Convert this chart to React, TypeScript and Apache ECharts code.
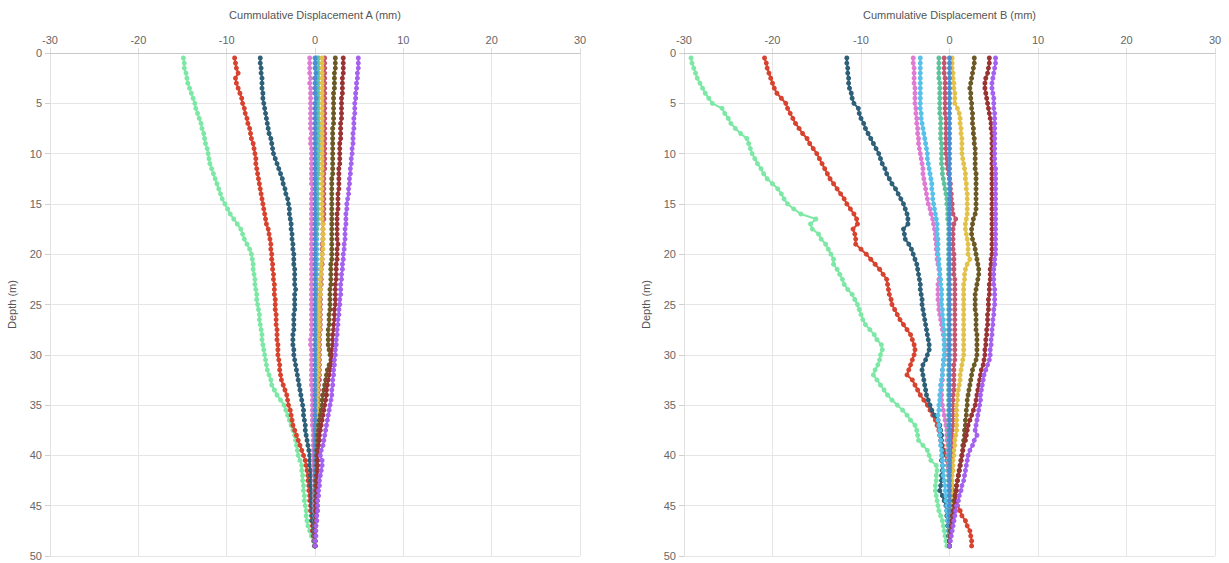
import React, { useEffect, useRef } from "react";
import * as echarts from "echarts";

const depths = [
  0.5, 1, 1.5, 2, 2.5, 3, 3.5, 4, 4.5, 5,
  5.5, 6, 6.5, 7, 7.5, 8, 8.5, 9, 9.5, 10,
  10.5, 11, 11.5, 12, 12.5, 13, 13.5, 14, 14.5, 15,
  15.5, 16, 16.5, 17, 17.5, 18, 18.5, 19, 19.5, 20,
  20.5, 21, 21.5, 22, 22.5, 23, 23.5, 24, 24.5, 25,
  25.5, 26, 26.5, 27, 27.5, 28, 28.5, 29, 29.5, 30,
  30.5, 31, 31.5, 32, 32.5, 33, 33.5, 34, 34.5, 35,
  35.5, 36, 36.5, 37, 37.5, 38, 38.5, 39, 39.5, 40,
  40.5, 41, 41.5, 42, 42.5, 43, 43.5, 44, 44.5, 45,
  45.5, 46, 46.5, 47, 47.5, 48, 48.5, 49,
];

const xTicks = [-30, -20, -10, 0, 10, 20, 30];
const yTicks = [0, 5, 10, 15, 20, 25, 30, 35, 40, 45, 50];

// ---------- Displacement A ----------
const greenA = [
  -14.9, -14.8, -14.8, -14.6, -14.5, -14.4, -14.2, -14.0, -13.8, -13.6,
  -13.5, -13.3, -13.1, -12.9, -12.8, -12.6, -12.5, -12.4, -12.2, -12.1,
  -12.0, -11.9, -11.7, -11.5, -11.3, -11.1, -10.9, -10.7, -10.5, -10.2,
  -9.9, -9.6, -9.2, -8.8, -8.4, -8.2, -8.0, -7.7, -7.4, -7.2,
  -7.1, -7.0, -7.0, -6.9, -6.8, -6.8, -6.7, -6.6, -6.6, -6.5,
  -6.4, -6.3, -6.3, -6.2, -6.1, -6.0, -6.0, -5.9, -5.8, -5.7,
  -5.6, -5.5, -5.4, -5.2, -5.0, -4.9, -4.6, -4.3, -3.9, -3.5,
  -3.3, -3.1, -2.9, -2.7, -2.5, -2.3, -2.2, -2.1, -2.0, -1.9,
  -1.7, -1.5, -1.5, -1.4, -1.4, -1.3, -1.3, -1.2, -1.2, -1.1,
  -1.0, -1.0, -0.9, -0.8, -0.6, -0.4, -0.2, -0.1,
];
const redA = [
  -9.1, -9.0, -8.9, -8.7, -9.0, -8.9, -8.7, -8.5, -8.3, -8.2,
  -8.0, -7.9, -7.7, -7.6, -7.4, -7.3, -7.2, -7.0, -6.9, -6.8,
  -6.7, -6.7, -6.6, -6.5, -6.4, -6.3, -6.2, -6.1, -6.0, -5.9,
  -5.8, -5.7, -5.6, -5.5, -5.3, -5.2, -5.1, -5.0, -5.0, -4.9,
  -4.9, -4.8, -4.8, -4.7, -4.7, -4.6, -4.6, -4.6, -4.5, -4.5,
  -4.5, -4.4, -4.4, -4.4, -4.3, -4.3, -4.3, -4.2, -4.2, -4.2,
  -4.1, -4.0, -4.0, -3.9, -3.8, -3.6, -3.4, -3.2, -3.1, -3.0,
  -2.8, -2.7, -2.6, -2.5, -2.3, -2.1, -1.9, -1.7, -1.5, -1.3,
  -1.1, -1.0, -0.9, -0.8, -0.8, -0.7, -0.7, -0.6, -0.6, -0.5,
  -0.5, -0.4, -0.4, -0.3, -0.3, -0.2, -0.1, 0.0,
];
const tealA = [
  -6.2, -6.2, -6.1, -6.1, -6.0, -6.0, -6.0, -5.9, -5.9, -5.8,
  -5.7, -5.6, -5.5, -5.4, -5.3, -5.2, -5.0, -4.9, -4.8, -4.7,
  -4.5, -4.3, -4.1, -3.9, -3.7, -3.6, -3.4, -3.3, -3.1, -3.0,
  -2.9, -2.9, -2.8, -2.7, -2.7, -2.6, -2.6, -2.5, -2.5, -2.4,
  -2.4, -2.4, -2.3, -2.3, -2.3, -2.3, -2.2, -2.3, -2.3, -2.3,
  -2.3, -2.4, -2.4, -2.4, -2.4, -2.5, -2.5, -2.5, -2.4, -2.4,
  -2.3, -2.2, -2.1, -2.0, -1.9, -1.8, -1.7, -1.6, -1.5, -1.4,
  -1.3, -1.3, -1.2, -1.1, -1.1, -1.0, -0.9, -0.8, -0.7, -0.6,
  -0.6, -0.6, -0.5, -0.5, -0.5, -0.5, -0.4, -0.4, -0.4, -0.4,
  -0.3, -0.3, -0.3, -0.2, -0.2, -0.1, -0.1, 0.0,
];
const pinkA = [
  -0.6, -0.6, -0.6, -0.6, -0.5, -0.6, -0.5, -0.5, -0.5, -0.5,
  -0.5, -0.5, -0.5, -0.5, -0.5, -0.4, -0.5, -0.5, -0.4, -0.4,
  -0.4, -0.4, -0.4, -0.4, -0.4, -0.4, -0.3, -0.4, -0.4, -0.4,
  -0.4, -0.4, -0.4, -0.4, -0.4, -0.4, -0.4, -0.4, -0.4, -0.4,
  -0.4, -0.4, -0.4, -0.4, -0.4, -0.4, -0.4, -0.4, -0.4, -0.4,
  -0.4, -0.4, -0.4, -0.4, -0.4, -0.4, -0.5, -0.5, -0.4, -0.4,
  -0.4, -0.4, -0.4, -0.4, -0.4, -0.4, -0.3, -0.3, -0.3, -0.3,
  -0.3, -0.3, -0.3, -0.3, -0.2, -0.2, -0.2, -0.2, -0.2, -0.2,
  -0.2, -0.2, -0.1, -0.1, -0.1, -0.1, -0.1, -0.1, -0.1, -0.1,
  -0.1, 0.0, 0.0, 0.0, 0.0, 0.0, 0.0, 0.0,
];
const lightBlueA = [
  0.4, 0.4, 0.4, 0.4, 0.4, 0.4, 0.4, 0.4, 0.4, 0.4,
  0.4, 0.4, 0.4, 0.5, 0.5, 0.5, 0.5, 0.5, 0.5, 0.5,
  0.4, 0.4, 0.4, 0.4, 0.3, 0.3, 0.3, 0.3, 0.3, 0.3,
  0.3, 0.3, 0.3, 0.3, 0.2, 0.2, 0.2, 0.2, 0.2, 0.2,
  0.2, 0.2, 0.2, 0.2, 0.2, 0.2, 0.2, 0.2, 0.2, 0.2,
  0.2, 0.2, 0.2, 0.2, 0.2, 0.2, 0.2, 0.2, 0.2, 0.2,
  0.2, 0.2, 0.2, 0.2, 0.2, 0.2, 0.2, 0.2, 0.2, 0.2,
  0.2, 0.2, 0.2, 0.2, 0.1, 0.1, 0.1, 0.1, 0.1, 0.1,
  0.1, 0.1, 0.1, 0.1, 0.1, 0.1, 0.1, 0.1, 0.1, 0.1,
  0.1, 0.1, 0.0, 0.0, 0.0, 0.0, 0.0, 0.0,
];
const tealGreenA = [
  0.2, 0.2, 0.2, 0.2, 0.2, 0.2, 0.2, 0.2, 0.2, 0.2,
  0.2, 0.2, 0.2, 0.2, 0.2, 0.2, 0.2, 0.2, 0.2, 0.2,
  0.2, 0.2, 0.2, 0.2, 0.2, 0.2, 0.2, 0.2, 0.2, 0.2,
  0.2, 0.2, 0.2, 0.2, 0.2, 0.2, 0.1, 0.1, 0.1, 0.1,
  0.1, 0.1, 0.1, 0.1, 0.1, 0.1, 0.1, 0.1, 0.1, 0.1,
  0.1, 0.1, 0.1, 0.1, 0.1, 0.1, 0.1, 0.1, 0.1, 0.1,
  0.1, 0.1, 0.1, 0.1, 0.1, 0.1, 0.1, 0.1, 0.1, 0.1,
  0.1, 0.1, 0.1, 0.1, 0.1, 0.1, 0.1, 0.1, 0.1, 0.1,
  0.1, 0.1, 0.1, 0.0, 0.0, 0.0, 0.0, 0.0, 0.0, 0.0,
  0.0, 0.0, 0.0, 0.0, 0.0, 0.0, 0.0, 0.0,
];
const roseA = [
  1.1, 1.1, 1.1, 1.1, 1.1, 1.1, 1.1, 1.1, 1.1, 1.1,
  1.1, 1.1, 1.1, 1.1, 1.1, 1.1, 1.1, 1.1, 1.1, 1.1,
  1.1, 1.1, 1.1, 1.0, 1.0, 1.0, 1.0, 1.0, 1.0, 1.0,
  1.0, 1.0, 1.0, 0.9, 0.9, 0.9, 0.9, 0.8, 0.8, 0.8,
  0.8, 0.8, 0.7, 0.7, 0.7, 0.7, 0.6, 0.6, 0.6, 0.6,
  0.6, 0.6, 0.6, 0.6, 0.6, 0.5, 0.5, 0.5, 0.5, 0.5,
  0.5, 0.5, 0.5, 0.5, 0.5, 0.4, 0.4, 0.4, 0.4, 0.4,
  0.4, 0.4, 0.3, 0.3, 0.3, 0.3, 0.3, 0.2, 0.2, 0.2,
  0.2, 0.2, 0.2, 0.2, 0.2, 0.1, 0.1, 0.1, 0.1, 0.1,
  0.1, 0.1, 0.1, 0.1, 0.0, 0.0, 0.0, 0.0,
];
const yellowA = [
  0.8, 0.8, 0.8, 0.8, 0.8, 0.8, 0.8, 0.8, 0.8, 0.8,
  0.8, 0.8, 0.8, 0.8, 0.8, 0.8, 0.8, 0.8, 0.8, 0.8,
  0.8, 0.8, 0.8, 0.8, 0.8, 0.8, 0.8, 0.8, 0.8, 0.8,
  0.8, 0.8, 0.8, 0.9, 0.9, 0.9, 0.9, 0.9, 0.9, 0.8,
  0.8, 0.7, 0.7, 0.7, 0.6, 0.6, 0.6, 0.6, 0.5, 0.5,
  0.5, 0.5, 0.5, 0.5, 0.5, 0.4, 0.4, 0.4, 0.4, 0.4,
  0.4, 0.4, 0.4, 0.4, 0.3, 0.3, 0.3, 0.3, 0.3, 0.3,
  0.3, 0.3, 0.3, 0.2, 0.2, 0.2, 0.2, 0.2, 0.2, 0.2,
  0.2, 0.2, 0.2, 0.1, 0.1, 0.1, 0.1, 0.1, 0.1, 0.1,
  0.1, 0.1, 0.1, 0.0, 0.0, 0.0, 0.0, 0.0,
];
const blueA = [
  0.0, 0.0, 0.0, 0.1, 0.0, 0.0, 0.0, 0.0, 0.1, 0.0,
  0.0, 0.0, 0.0, 0.0, 0.0, 0.0, 0.0, 0.0, 0.0, 0.0,
  0.0, 0.0, 0.0, 0.0, 0.0, 0.0, 0.0, 0.0, 0.0, 0.0,
  0.0, 0.0, 0.0, 0.0, 0.0, 0.0, 0.0, 0.0, 0.0, 0.0,
  0.0, 0.0, 0.0, 0.0, 0.0, 0.0, 0.0, 0.0, 0.0, 0.0,
  0.0, 0.0, 0.0, 0.0, 0.0, 0.0, 0.0, 0.0, 0.0, 0.0,
  0.0, 0.0, 0.0, 0.0, 0.0, 0.0, 0.0, 0.0, 0.0, 0.0,
  0.0, 0.0, 0.0, 0.0, 0.0, 0.0, 0.0, 0.0, 0.0, 0.0,
  0.0, 0.0, 0.0, 0.0, 0.0, 0.0, 0.0, 0.0, 0.0, 0.0,
  0.0, 0.0, 0.0, 0.0, 0.0, 0.0, 0.0, 0.0,
];
const oliveA = [
  2.3, 2.3, 2.3, 2.2, 2.2, 2.2, 2.2, 2.1, 2.1, 2.1,
  2.1, 2.1, 2.1, 2.1, 2.0, 2.0, 2.0, 2.0, 2.0, 2.0,
  2.0, 2.0, 2.0, 2.0, 1.9, 1.9, 1.9, 1.9, 1.9, 1.9,
  1.9, 1.9, 1.9, 1.9, 1.9, 1.9, 1.9, 1.9, 1.9, 1.9,
  1.9, 1.8, 1.8, 1.8, 1.8, 1.8, 1.7, 1.7, 1.7, 1.7,
  1.7, 1.6, 1.6, 1.6, 1.5, 1.5, 1.5, 1.5, 1.6, 1.7,
  1.8, 1.6, 1.4, 1.3, 1.2, 1.1, 1.0, 0.9, 0.8, 0.8,
  0.7, 0.6, 0.5, 0.4, 0.4, 0.3, 0.3, 0.3, 0.2, 0.2,
  0.2, 0.2, 0.2, 0.2, 0.1, 0.1, 0.1, 0.1, 0.1, 0.1,
  0.1, 0.1, 0.0, 0.0, 0.0, 0.0, 0.0, 0.0,
];
const darkRedA = [
  3.2, 3.2, 3.2, 3.2, 3.1, 3.1, 3.1, 3.1, 3.0, 3.0,
  3.0, 3.0, 3.0, 2.9, 2.9, 2.9, 2.9, 2.8, 2.8, 2.8,
  2.8, 2.8, 2.7, 2.7, 2.7, 2.7, 2.7, 2.6, 2.6, 2.6,
  2.6, 2.5, 2.5, 2.5, 2.5, 2.5, 2.5, 2.6, 2.5, 2.5,
  2.5, 2.4, 2.4, 2.4, 2.4, 2.3, 2.3, 2.3, 2.3, 2.3,
  2.2, 2.2, 2.2, 2.1, 2.1, 2.0, 2.0, 2.0, 1.9, 1.9,
  1.9, 1.8, 1.7, 1.6, 1.5, 1.4, 1.3, 1.3, 1.2, 1.1,
  1.0, 0.9, 0.8, 0.7, 0.6, 0.5, 0.5, 0.4, 0.4, 0.3,
  0.3, 0.3, 0.3, 0.2, 0.2, 0.2, 0.2, 0.2, 0.1, 0.1,
  0.1, 0.1, 0.1, 0.0, 0.0, 0.0, 0.0, 0.0,
];
const purpleA = [
  4.9, 4.9, 4.9, 4.8, 4.8, 4.7, 4.7, 4.6, 4.6, 4.5,
  4.5, 4.5, 4.4, 4.4, 4.4, 4.3, 4.3, 4.3, 4.2, 4.2,
  4.1, 4.1, 4.0, 4.0, 3.9, 3.9, 3.8, 3.8, 3.7, 3.6,
  3.6, 3.5, 3.5, 3.5, 3.4, 3.4, 3.4, 3.3, 3.3, 3.2,
  3.2, 3.1, 3.1, 3.0, 3.0, 2.9, 2.9, 2.9, 2.8, 2.8,
  2.7, 2.7, 2.6, 2.6, 2.5, 2.5, 2.4, 2.4, 2.3, 2.3,
  2.2, 2.2, 2.1, 2.1, 2.0, 2.0, 1.9, 1.9, 1.8, 1.7,
  1.6, 1.5, 1.4, 1.3, 1.2, 1.1, 1.0, 0.9, 0.7, 0.6,
  0.8, 0.8, 0.7, 0.6, 0.5, 0.5, 0.4, 0.4, 0.3, 0.3,
  0.3, 0.2, 0.2, 0.1, 0.1, 0.1, 0.0, 0.0,
];

// ---------- Displacement B ----------
const greenB = [
  -29.2, -29.1, -28.9, -28.7, -28.5, -28.2, -27.9, -27.6, -27.2, -26.8,
  -25.7, -25.4, -25.0, -24.7, -24.2, -23.6, -22.9, -22.7, -22.5, -22.3,
  -22.0, -21.7, -21.3, -21.0, -20.6, -20.0, -19.4, -19.0, -18.7, -18.3,
  -17.6, -16.8, -15.1, -15.7, -15.5, -14.8, -14.5, -14.0, -13.7, -13.4,
  -13.1, -13.1, -12.7, -12.4, -12.1, -11.9, -11.5, -11.0, -10.7, -10.4,
  -10.2, -10.0, -9.8, -9.5, -9.0, -8.5, -8.2, -7.7, -7.6, -7.8,
  -7.9, -8.1, -8.4, -8.6, -8.2, -7.8, -7.4, -7.0, -6.5, -5.9,
  -5.3, -4.8, -4.4, -3.9, -3.7, -3.6, -3.5, -3.0, -2.5, -2.3,
  -2.1, -1.5, -1.4, -1.5, -1.5, -1.6, -1.6, -1.5, -1.4, -1.3,
  -1.2, -1.0, -0.8, -0.7, -0.6, -0.5, -0.4, -0.3,
];
const redB = [
  -20.9, -20.7, -20.6, -20.4, -20.2, -20.0, -19.8, -19.5, -19.0, -18.5,
  -18.3, -18.0, -17.7, -17.4, -17.0, -16.6, -16.1, -15.8, -15.4, -15.0,
  -14.7, -14.4, -14.1, -13.8, -13.5, -13.1, -12.7, -12.3, -11.9, -11.6,
  -11.2, -10.8, -10.5, -10.4, -10.9, -10.7, -10.6, -10.6, -10.0, -9.4,
  -8.9, -8.4, -7.9, -7.5, -7.1, -7.0, -6.9, -6.8, -6.6, -6.5,
  -6.2, -5.9, -5.6, -5.2, -4.8, -4.4, -4.2, -4.0, -3.9, -4.0,
  -4.2, -4.4, -4.6, -4.8, -4.2, -3.9, -3.6, -3.3, -2.9, -2.5,
  -2.2, -1.9, -1.6, -1.4, -1.2, -1.1, -1.0, -0.8, -0.6, -0.4,
  -0.3, -0.2, -0.1, 0.0, 0.2, 0.3, 0.4, 0.6, 0.7, 0.9,
  1.2, 1.4, 1.8, 2.0, 2.3, 2.4, 2.5, 2.5,
];
const tealB = [
  -11.6, -11.6, -11.5, -11.5, -11.4, -11.4, -11.3, -11.1, -11.0, -10.8,
  -10.3, -10.2, -10.0, -9.7, -9.5, -9.2, -8.9, -8.6, -8.3, -8.0,
  -7.8, -7.6, -7.3, -7.1, -6.8, -6.5, -6.1, -5.8, -5.5, -5.2,
  -5.0, -4.8, -4.7, -4.7, -5.2, -5.1, -5.0, -4.6, -4.3, -4.1,
  -3.9, -3.7, -3.6, -3.5, -3.4, -3.3, -3.3, -3.2, -3.1, -3.1,
  -3.0, -2.9, -2.8, -2.7, -2.6, -2.5, -2.4, -2.3, -2.3, -2.5,
  -2.7, -3.0, -3.1, -3.0, -2.9, -2.8, -2.7, -2.6, -2.4, -2.2,
  -2.0, -1.7, -1.3, -1.1, -1.0, -0.9, -0.9, -0.9, -0.8, -0.8,
  -0.9, -0.8, -0.8, -0.9, -0.9, -1.0, -1.1, -0.8, -0.6, -0.4,
  -0.3, -0.3, -0.2, -0.2, -0.1, -0.1, 0.0, 0.0,
];
const pinkB = [
  -4.1, -4.1, -4.0, -4.0, -4.0, -4.0, -3.9, -3.9, -3.9, -3.9,
  -3.8, -3.8, -3.7, -3.7, -3.6, -3.6, -3.5, -3.5, -3.4, -3.3,
  -3.2, -3.1, -3.0, -3.0, -2.9, -2.8, -2.7, -2.6, -2.5, -2.4,
  -2.2, -2.1, -1.9, -1.8, -1.7, -1.6, -1.6, -1.5, -1.5, -1.4,
  -1.4, -1.3, -1.2, -1.1, -1.2, -1.3, -1.3, -1.3, -1.3, -1.2,
  -1.2, -1.1, -1.0, -0.9, -0.8, -0.7, -0.6, -0.5, -0.5, -0.5,
  -0.6, -0.7, -0.8, -0.8, -0.8, -0.9, -0.9, -0.9, -0.9, -0.8,
  -0.7, -0.6, -0.5, -0.4, -0.3, -0.3, -0.3, -0.2, -0.2, -0.2,
  -0.2, -0.2, -0.2, -0.1, -0.1, -0.1, -0.1, -0.1, 0.0, 0.0,
  0.0, 0.0, 0.0, 0.0, 0.0, 0.0, 0.0, 0.0,
];
const lightBlueB = [
  -3.3, -3.3, -3.3, -3.3, -3.3, -3.3, -3.3, -3.3, -3.3, -3.3,
  -3.3, -3.2, -3.2, -3.1, -3.0, -2.9, -2.8, -2.7, -2.6, -2.5,
  -2.5, -2.4, -2.3, -2.2, -2.1, -2.0, -2.0, -1.9, -1.9, -1.8,
  -1.7, -1.6, -1.5, -1.4, -1.4, -1.4, -1.3, -1.3, -1.3, -1.3,
  -1.2, -1.2, -1.1, -1.1, -1.0, -1.0, -0.9, -0.9, -0.9, -0.9,
  -0.8, -0.8, -0.7, -0.7, -0.6, -0.6, -0.6, -0.6, -0.6, -0.6,
  -0.7, -0.7, -0.8, -0.8, -0.9, -1.0, -1.0, -1.1, -1.1, -1.2,
  -1.2, -1.3, -1.3, -1.2, -1.1, -1.1, -1.0, -1.0, -0.9, -0.9,
  -0.8, -0.8, -0.7, -0.7, -0.6, -0.5, -0.5, -0.4, -0.4, -0.3,
  -0.3, -0.2, -0.2, -0.1, -0.1, 0.0, 0.0, 0.0,
];
const tealGreenB = [
  -1.2, -1.2, -1.2, -1.2, -1.2, -1.1, -1.1, -1.1, -1.1, -1.1,
  -1.1, -1.1, -1.0, -1.0, -1.0, -1.0, -1.0, -0.9, -0.9, -0.9,
  -0.9, -0.9, -0.8, -0.8, -0.7, -0.6, -0.5, -0.4, -0.3, -0.3,
  -0.2, -0.2, -0.2, -0.1, -0.1, -0.1, -0.1, -0.1, -0.1, -0.1,
  -0.1, -0.1, -0.1, -0.1, -0.1, -0.1, -0.1, -0.1, -0.1, -0.1,
  -0.1, -0.1, -0.1, -0.1, -0.1, -0.1, -0.1, -0.1, -0.1, -0.1,
  -0.1, -0.1, -0.1, -0.1, -0.1, -0.1, -0.1, -0.1, -0.1, -0.1,
  -0.1, -0.1, -0.1, -0.1, -0.1, -0.1, -0.1, -0.1, -0.1, -0.1,
  -0.1, -0.1, -0.1, -0.1, -0.1, 0.0, 0.0, 0.0, 0.0, 0.0,
  0.0, 0.0, 0.0, 0.0, 0.0, 0.0, 0.0, 0.0,
];
const roseB = [
  -0.6, -0.6, -0.6, -0.6, -0.5, -0.5, -0.5, -0.5, -0.5, -0.5,
  -0.5, -0.5, -0.4, -0.4, -0.4, -0.4, -0.4, -0.4, -0.4, -0.4,
  -0.3, -0.3, -0.2, -0.1, 0.0, 0.1, 0.1, 0.2, 0.2, 0.3,
  0.3, 0.4, 0.7, 0.5, 0.4, 0.4, 0.4, 0.4, 0.4, 0.5,
  0.5, 0.5, 0.5, 0.5, 0.6, 0.6, 0.6, 0.6, 0.6, 0.6,
  0.6, 0.6, 0.6, 0.6, 0.6, 0.6, 0.6, 0.6, 0.6, 0.6,
  0.6, 0.5, 0.5, 0.5, 0.5, 0.5, 0.5, 0.4, 0.4, 0.4,
  0.4, 0.4, 0.4, 0.4, 0.3, 0.3, 0.3, 0.3, 0.3, 0.3,
  0.3, 0.2, 0.2, 0.2, 0.2, 0.2, 0.1, 0.1, 0.1, 0.1,
  0.1, 0.1, 0.1, 0.0, 0.0, 0.0, 0.0, 0.0,
];
const yellowB = [
  0.3, 0.3, 0.3, 0.4, 0.4, 0.5, 0.5, 0.6, 0.6, 0.6,
  0.9, 1.1, 1.2, 1.2, 1.3, 1.3, 1.4, 1.4, 1.4, 1.4,
  1.5, 1.6, 1.7, 1.8, 1.8, 1.9, 1.9, 2.0, 2.0, 2.0,
  2.0, 2.0, 1.9, 1.8, 1.8, 1.9, 2.0, 2.1, 2.1, 2.1,
  2.3, 2.0, 1.8, 1.7, 1.7, 1.6, 1.6, 1.6, 1.6, 1.6,
  1.6, 1.6, 1.6, 1.6, 1.6, 1.6, 1.6, 1.6, 1.6, 1.6,
  1.5, 1.4, 1.3, 1.2, 1.2, 1.1, 1.0, 0.9, 0.9, 0.8,
  0.8, 0.8, 0.8, 0.8, 0.8, 0.7, 0.6, 0.6, 0.5, 0.5,
  0.4, 0.4, 0.4, 0.3, 0.3, 0.3, 0.3, 0.2, 0.2, 0.2,
  0.1, 0.1, 0.1, 0.1, 0.0, 0.0, 0.0, 0.0,
];
const blueB = [
  0.0, 0.0, 0.0, 0.0, 0.0, 0.0, 0.0, 0.0, 0.0, 0.0,
  0.0, 0.0, 0.0, 0.0, 0.0, 0.0, 0.0, 0.0, 0.0, 0.0,
  0.0, 0.0, 0.0, 0.0, 0.0, 0.0, 0.0, 0.0, 0.0, 0.0,
  0.0, 0.0, 0.0, 0.0, 0.0, 0.0, 0.0, 0.0, 0.0, 0.0,
  0.0, 0.0, 0.0, 0.0, 0.0, 0.0, 0.0, 0.0, 0.0, 0.0,
  0.0, 0.0, 0.0, 0.0, 0.0, 0.0, 0.0, 0.0, 0.0, 0.0,
  0.0, 0.0, 0.0, 0.0, 0.0, 0.0, 0.0, 0.0, 0.0, 0.0,
  0.0, 0.0, 0.0, 0.0, 0.0, 0.0, 0.0, 0.0, 0.0, 0.0,
  0.0, 0.0, 0.0, 0.0, 0.0, 0.0, 0.0, 0.0, 0.0, 0.0,
  0.0, 0.0, 0.0, 0.0, 0.0, 0.0, 0.0, 0.0,
];
const oliveB = [
  2.8, 2.8, 2.7, 2.6, 2.5, 2.4, 2.3, 2.4, 2.4, 2.5,
  2.5, 2.6, 2.6, 2.6, 2.7, 2.7, 2.8, 2.8, 2.9, 2.9,
  2.9, 2.9, 2.9, 3.0, 3.0, 3.0, 3.0, 3.0, 3.0, 3.0,
  3.0, 2.9, 2.7, 2.6, 2.5, 2.5, 2.6, 2.8, 2.9, 3.0,
  3.1, 3.2, 3.3, 3.3, 3.2, 3.1, 3.0, 2.9, 2.9, 2.9,
  2.9, 3.0, 3.0, 3.0, 3.0, 3.1, 3.1, 3.1, 3.1, 3.1,
  3.0, 2.8, 2.6, 2.5, 2.4, 2.3, 2.2, 2.1, 2.0, 2.0,
  1.9, 1.9, 1.8, 1.8, 1.7, 1.7, 1.6, 1.5, 1.5, 1.4,
  1.3, 1.2, 1.1, 1.0, 0.9, 0.8, 0.7, 0.6, 0.5, 0.5,
  0.4, 0.3, 0.3, 0.2, 0.1, 0.1, 0.0, 0.0,
];
const darkRedB = [
  4.5, 4.5, 4.4, 4.3, 4.1, 4.0, 4.0, 4.1, 4.2, 4.3,
  4.4, 4.5, 4.6, 4.7, 4.7, 4.8, 4.8, 4.8, 4.8, 4.8,
  4.8, 4.8, 4.8, 4.8, 4.8, 4.8, 4.8, 4.8, 4.8, 4.8,
  4.8, 4.8, 4.8, 4.8, 4.8, 4.8, 4.8, 4.8, 4.8, 4.8,
  4.7, 4.7, 4.6, 4.6, 4.6, 4.5, 4.5, 4.5, 4.4, 4.4,
  4.4, 4.3, 4.3, 4.3, 4.2, 4.2, 4.1, 4.1, 4.0, 4.0,
  3.9, 3.8, 3.6, 3.5, 3.4, 3.3, 3.2, 3.1, 3.0, 2.9,
  2.7, 2.5, 2.3, 2.1, 2.0, 1.9, 1.8, 1.6, 1.5, 1.4,
  1.3, 1.2, 1.1, 1.0, 0.9, 0.8, 0.8, 0.7, 0.7, 0.6,
  0.5, 0.4, 0.3, 0.2, 0.2, 0.1, 0.0, 0.0,
];
const purpleB = [
  5.2, 5.2, 5.1, 5.0, 4.9, 4.8, 4.8, 4.9, 5.0, 5.0,
  5.0, 5.1, 5.1, 5.1, 5.1, 5.1, 5.1, 5.1, 5.1, 5.1,
  5.1, 5.1, 5.2, 5.2, 5.2, 5.2, 5.2, 5.2, 5.2, 5.2,
  5.2, 5.2, 5.2, 5.2, 5.2, 5.2, 5.2, 5.2, 5.2, 5.2,
  5.1, 5.1, 5.0, 5.0, 5.0, 5.0, 5.1, 5.1, 5.1, 5.1,
  5.0, 5.0, 4.9, 4.9, 4.8, 4.8, 4.7, 4.7, 4.6, 4.6,
  4.5, 4.3, 4.1, 3.9, 3.8, 3.7, 3.6, 3.5, 3.5, 3.4,
  3.3, 3.2, 3.1, 3.0, 2.9, 3.1, 2.8, 2.6, 2.3, 2.1,
  2.0, 1.9, 1.8, 1.7, 1.6, 1.4, 1.3, 1.1, 1.0, 0.8,
  0.7, 0.6, 0.5, 0.4, 0.3, 0.2, 0.1, 0.0,
];

const seriesNames = [
  "Reading 1", "Reading 2", "Reading 3", "Reading 4", "Reading 5", "Reading 6",
  "Reading 7", "Reading 8", "Reading 9", "Reading 10", "Reading 11", "Reading 12",
];
const seriesColors = [
  "#7de8a5", "#d8432f", "#2f6079", "#e07bd3", "#58c1ea", "#5ec39c",
  "#c5566f", "#e2c24a", "#4b8ed6", "#6c5a26", "#9a3434", "#a561f0",
];
const seriesA = [greenA, redA, tealA, pinkA, lightBlueA, tealGreenA, roseA, yellowA, blueA, oliveA, darkRedA, purpleA];
const seriesB = [greenB, redB, tealB, pinkB, lightBlueB, tealGreenB, roseB, yellowB, blueB, oliveB, darkRedB, purpleB];

const FONT = "'Liberation Sans', Arial, sans-serif";

function buildSeries(values: number[][], axisIndex: number) {
  return values.map((vals, k) => ({
    type: "line",
    name: seriesNames[k],
    xAxisIndex: axisIndex,
    yAxisIndex: axisIndex,
    data: vals.map((v, i) => [v, depths[i]]),
    symbol: "circle",
    symbolSize: 5,
    showSymbol: true,
    lineStyle: { width: 2, color: seriesColors[k] },
    itemStyle: { color: seriesColors[k] },
    emphasis: { disabled: true },
    z: 3,
  }));
}

function xAxisFor(index: number, name: string) {
  return {
    type: "value",
    gridIndex: index,
    position: "top",
    min: xTicks[0],
    max: xTicks[xTicks.length - 1],
    interval: 10,
    name,
    nameLocation: "middle",
    nameGap: 33,
    nameTextStyle: { color: "#555555", fontSize: 11, fontFamily: FONT },
    axisLine: { show: true, onZero: false, lineStyle: { color: "#c8c8c8", width: 1 } },
    axisTick: { show: true, length: 5, lineStyle: { color: "#dcdcdc" } },
    axisLabel: { color: "#666666", fontSize: 11, fontFamily: FONT, margin: 8 },
    splitLine: { show: true, lineStyle: { color: "#e6e6e6", width: 1 } },
  };
}

function yAxisFor(index: number) {
  return {
    type: "value",
    gridIndex: index,
    inverse: true,
    min: yTicks[0],
    max: yTicks[yTicks.length - 1],
    interval: 5,
    name: "Depth (m)",
    nameLocation: "middle",
    nameGap: 33,
    nameTextStyle: { color: "#555555", fontSize: 11, fontFamily: FONT },
    axisLine: { show: true, onZero: false, lineStyle: { color: "#e0e0e0", width: 1 } },
    axisTick: { show: true, length: 5, lineStyle: { color: "#cfcfcf" } },
    axisLabel: { color: "#666666", fontSize: 11, fontFamily: FONT, margin: 8 },
    splitLine: { show: true, lineStyle: { color: "#e6e6e6", width: 1 } },
  };
}

export default function App() {
  const ref = useRef<HTMLDivElement>(null);
  useEffect(() => {
    if (!ref.current) return;
    const chart = echarts.init(ref.current, undefined, { renderer: "svg" });
    chart.setOption({
      animation: false,
      backgroundColor: "#ffffff",
      textStyle: { fontFamily: FONT },
      grid: [
        { left: 50, top: 53, width: 530, height: 503 },
        { left: 684, top: 53, width: 531, height: 503 },
      ],
      xAxis: [
        xAxisFor(0, "Cummulative Displacement A (mm)"),
        xAxisFor(1, "Cummulative Displacement B (mm)"),
      ],
      yAxis: [yAxisFor(0), yAxisFor(1)],
      series: [...buildSeries(seriesA, 0), ...buildSeries(seriesB, 1)],
    });
    return () => chart.dispose();
  }, []);
  return (
    <div
      ref={ref}
      style={{ position: "absolute", left: 0, top: 0, width: 1229, height: 563 }}
    />
  );
}
